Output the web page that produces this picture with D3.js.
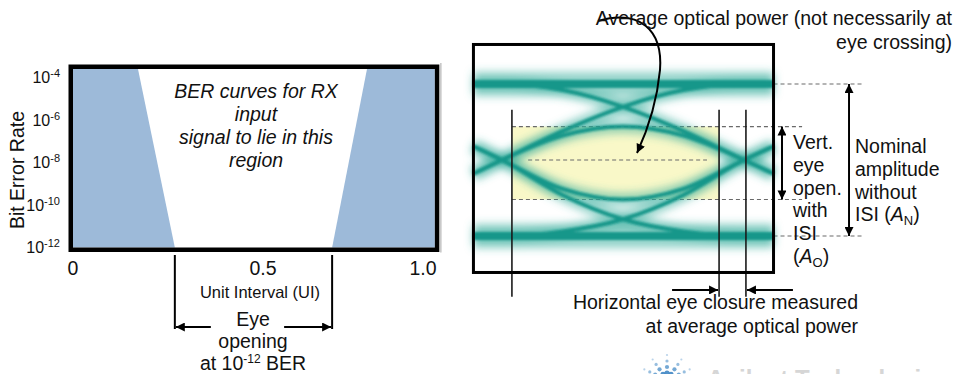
<!DOCTYPE html>
<html>
<head>
<meta charset="utf-8">
<script src="https://cdn.jsdelivr.net/npm/d3@7"></script>
<style>
  html, body { margin: 0; padding: 0; background: #fff; }
  svg { display: block; font-family: "Liberation Sans", Arial, Helvetica, sans-serif; }
</style>
</head>
<body>
<svg id="chart" width="957" height="374"></svg>
<script>
// ---------- BER mask (left panel) ----------
const uiTicks = [0, 0.5, 1.0];
const uiTickLabels = ["0", "0.5", "1.0"];
const berTickExp = [-4, -6, -8, -10, -12];
const berSpanExp = [-12, -3.6];            // bottom / top of the plotted BER span
const uiSpan = [0, 1.037];                  // left / right edge of the plot in UI
const leftMaskUI = [0.171, 0.268];          // mask edge at top BER, at 1e-12
const rightMaskUI = [0.825, 0.716];
const eyeOpeningUI = [0.268, 0.716];        // eye opening at 1e-12 BER
const regionLines = ["BER curves for RX", "input", "signal to lie in this", "region"];

// ---------- Eye diagram (right panel) ----------
const eyeWindowT = [-0.118, 1.122];         // horizontal extent of the scope window (UI)
const eyeWindowLevel = [-0.24, 1.26];       // vertical extent of the scope window
const railLevels = [1, 0];
const avgPowerLevel = 0.5;
const eyeOpenLevels = [0.72, 0.24];         // A_O limits
const closureT = [0.041, 0.897, 1.008];     // vertical markers
const avgPowerSpanT = [0.108, 0.847];

// traces as [time (UI), level] pairs
const traceTopRail    = [[-0.118, 1], [1.122, 1]];
const traceBottomRail = [[-0.118, 0], [1.122, 0]];
const traceUpperArc   = [[-0.118, 0.41], [0, 0.5], [0.25, 0.66], [0.5, 0.72], [0.75, 0.66], [1, 0.5], [1.122, 0.41]];
const traceLowerArc   = [[-0.118, 0.59], [0, 0.5], [0.25, 0.31], [0.5, 0.24], [0.75, 0.31], [1, 0.5], [1.122, 0.59]];
const traceRiseA      = [[-0.118, 0.41], [0, 0.5], [0.25, 0.69], [0.5, 0.85], [0.75, 0.96], [1, 1], [1.122, 1]];
const traceFallA      = [[-0.118, 0.59], [0, 0.5], [0.25, 0.27], [0.5, 0.11], [0.75, 0.03], [1, 0], [1.122, 0]];
const traceRiseB      = [[-0.118, 0], [0, 0], [0.25, 0.03], [0.5, 0.11], [0.75, 0.27], [1, 0.5], [1.122, 0.59]];
const traceFallB      = [[-0.118, 1], [0, 1], [0.25, 0.96], [0.5, 0.85], [0.75, 0.69], [1, 0.5], [1.122, 0.41]];
const railTraces = [traceTopRail, traceBottomRail];
const isiTraces = [traceUpperArc, traceLowerArc, traceRiseA, traceFallA, traceRiseB, traceFallB];

const svg = d3.select("#chart");
svg.append("rect").attr("width", 957).attr("height", 374).attr("fill", "#fff");

const defs = svg.append("defs");
defs.append("marker")
  .attr("id", "head").attr("viewBox", "0 0 10 10")
  .attr("refX", 10).attr("refY", 5)
  .attr("markerUnits", "userSpaceOnUse")
  .attr("markerWidth", 13).attr("markerHeight", 9)
  .attr("orient", "auto-start-reverse")
  .append("path").attr("d", "M0,0 L10,5 L0,10 Z").attr("fill", "#000");

function blurFilter(id, sd) {
  defs.append("filter").attr("id", id)
    .attr("filterUnits", "userSpaceOnUse")
    .attr("x", 440).attr("y", 30).attr("width", 360).attr("height", 260)
    .append("feGaussianBlur").attr("stdDeviation", sd);
}
blurFilter("haze", 4.5);
blurFilter("soft", 0.9);

// ===== left panel =====
const x = d3.scaleLinear().domain([0, 0.5, 1]).range([73, 263, 423]);
const y = d3.scaleLog().domain(berSpanExp.map(e => Math.pow(10, e))).range([247.5, 69]);
const yTop = Math.pow(10, berSpanExp[1]);
const yBot = Math.pow(10, berSpanExp[0]);

const area = d3.line().x(d => x(d[0])).y(d => y(d[1]));
const left = svg.append("g");

left.append("path")
  .attr("d", area([[uiSpan[0], yTop], [leftMaskUI[0], yTop], [leftMaskUI[1], yBot], [uiSpan[0], yBot]]) + "Z")
  .attr("fill", "#9dbad9");
left.append("path")
  .attr("d", area([[rightMaskUI[0], yTop], [uiSpan[1], yTop], [uiSpan[1], yBot], [rightMaskUI[1], yBot]]) + "Z")
  .attr("fill", "#9dbad9");

// frame
left.append("rect")
  .attr("x", x(uiSpan[0]) - 2.25).attr("y", y(yTop) - 2.25)
  .attr("width", x(uiSpan[1]) - x(uiSpan[0]) + 4.5)
  .attr("height", y(yBot) - y(yTop) + 4.5)
  .attr("fill", "none").attr("stroke", "#000").attr("stroke-width", 4.5);
left.append("line")
  .attr("x1", x(uiSpan[1]) + 6).attr("x2", x(uiSpan[1]) + 6)
  .attr("y1", y(yTop) - 6).attr("y2", y(yBot) + 5)
  .attr("stroke", "#c4c4c4").attr("stroke-width", 1.5);

// y ticks
berTickExp.forEach(e => {
  const t = left.append("text")
    .attr("x", 60).attr("y", y(Math.pow(10, e)) + 5.5)
    .attr("text-anchor", "end").attr("font-size", 16).attr("fill", "#111");
  t.append("tspan").text("10");
  t.append("tspan").attr("font-size", 11).attr("dy", -6).text(String(e));
});
left.append("text")
  .attr("transform", "translate(24,170) rotate(-90)")
  .attr("text-anchor", "middle").attr("font-size", 19.5).attr("fill", "#111")
  .text("Bit Error Rate");

// x ticks
uiTicks.forEach((v, i) => {
  left.append("text")
    .attr("x", x(v)).attr("y", 275)
    .attr("text-anchor", "middle").attr("font-size", 19.5).attr("fill", "#111")
    .text(uiTickLabels[i]);
});
left.append("text")
  .attr("x", 260).attr("y", 298)
  .attr("text-anchor", "middle").attr("font-size", 16.5).attr("fill", "#111")
  .text("Unit Interval (UI)");

// region text
regionLines.forEach((s, i) => {
  left.append("text")
    .attr("x", 256).attr("y", 98 + i * 23)
    .attr("text-anchor", "middle").attr("font-size", 19.5)
    .attr("font-style", "italic").attr("fill", "#111")
    .text(s);
});

// eye-opening markers
const arrowY = 327;
eyeOpeningUI.forEach(v => {
  left.append("line")
    .attr("x1", x(v)).attr("x2", x(v)).attr("y1", 255).attr("y2", arrowY + 2)
    .attr("stroke", "#000").attr("stroke-width", 2);
});
left.append("line")
  .attr("x1", x(eyeOpeningUI[0]) + 36).attr("x2", x(eyeOpeningUI[0]) + 1)
  .attr("y1", arrowY).attr("y2", arrowY)
  .attr("stroke", "#000").attr("stroke-width", 2).attr("marker-end", "url(#head)");
left.append("line")
  .attr("x1", x(eyeOpeningUI[1]) - 48).attr("x2", x(eyeOpeningUI[1]) - 1)
  .attr("y1", arrowY).attr("y2", arrowY)
  .attr("stroke", "#000").attr("stroke-width", 2).attr("marker-end", "url(#head)");

const eo = [["Eye"], ["opening"], ["at 10", "-12", " BER"]];
eo.forEach((parts, i) => {
  const t = left.append("text")
    .attr("x", 253).attr("y", 326 + i * 22)
    .attr("text-anchor", "middle").attr("font-size", 19.5).attr("fill", "#111");
  t.append("tspan").text(parts[0]);
  if (parts.length > 1) {
    t.append("tspan").attr("font-size", 12).attr("dy", -7).text(parts[1]);
    t.append("tspan").attr("dy", 7).text(parts[2]);
  }
});

// ===== right panel =====
const tx = d3.scaleLinear().domain([0, 1]).range([502, 744]);
const ly = d3.scaleLinear().domain([0, 1]).range([236, 84]);
const right = svg.append("g");

// eye interior
right.append("rect")
  .attr("x", tx(closureT[0])).attr("y", ly(eyeOpenLevels[0]))
  .attr("width", tx(closureT[1]) - tx(closureT[0]))
  .attr("height", ly(eyeOpenLevels[1]) - ly(eyeOpenLevels[0]))
  .attr("fill", "#f9f8c8");

// dashed reference levels
const dash = (t0, t1, lv) => right.append("line")
  .attr("x1", tx(t0)).attr("x2", tx(t1)).attr("y1", ly(lv)).attr("y2", ly(lv))
  .attr("stroke", "#6a6a6a").attr("stroke-width", 1.2).attr("stroke-dasharray", "4,3");
dash(avgPowerSpanT[0], avgPowerSpanT[1], avgPowerLevel);
eyeOpenLevels.forEach(lv => dash(closureT[0], 1.24, lv));
railLevels.forEach(lv => dash(eyeWindowT[1], 1.495, lv));

// traces
const trace = d3.line().x(d => tx(d[0])).y(d => ly(d[1])).curve(d3.curveMonotoneX);
const haze = right.append("g").attr("filter", "url(#haze)").attr("fill", "none")
  .attr("stroke", "#3cae9f").attr("stroke-opacity", 0.55);
railTraces.forEach(tr => haze.append("path").attr("d", trace(tr)).attr("stroke-width", 24));
isiTraces.forEach(tr => haze.append("path").attr("d", trace(tr)).attr("stroke-width", 13));
const core = right.append("g").attr("filter", "url(#soft)").attr("fill", "none")
  .attr("stroke", "#14978a");
railTraces.forEach(tr => core.append("path").attr("d", trace(tr)).attr("stroke-width", 8));
isiTraces.forEach(tr => core.append("path").attr("d", trace(tr)).attr("stroke-width", 4));

// closure markers
closureT.forEach(t => {
  right.append("line")
    .attr("x1", tx(t)).attr("x2", tx(t)).attr("y1", ly(0.83)).attr("y2", ly(-0.4))
    .attr("stroke", "#1a1a1a").attr("stroke-width", 1.6);
});

// scope window
right.append("rect")
  .attr("x", tx(eyeWindowT[0])).attr("y", ly(eyeWindowLevel[1]))
  .attr("width", tx(eyeWindowT[1]) - tx(eyeWindowT[0]))
  .attr("height", ly(eyeWindowLevel[0]) - ly(eyeWindowLevel[1]))
  .attr("fill", "none").attr("stroke", "#000").attr("stroke-width", 3);

// horizontal closure arrows
const hy = ly(-0.355);
right.append("line").attr("x1", tx(closureT[1]) - 47).attr("x2", tx(closureT[1]) - 1)
  .attr("y1", hy).attr("y2", hy).attr("stroke", "#000").attr("stroke-width", 2)
  .attr("marker-end", "url(#head)");
right.append("line").attr("x1", tx(closureT[2]) + 47).attr("x2", tx(closureT[2]) + 1)
  .attr("y1", hy).attr("y2", hy).attr("stroke", "#000").attr("stroke-width", 2)
  .attr("marker-end", "url(#head)");

// vertical double arrows
const vArrow = (t, l0, l1) => right.append("line")
  .attr("x1", tx(t)).attr("x2", tx(t)).attr("y1", ly(l0)).attr("y2", ly(l1))
  .attr("stroke", "#000").attr("stroke-width", 2)
  .attr("marker-start", "url(#head)").attr("marker-end", "url(#head)");
vArrow(1.157, eyeOpenLevels[0], eyeOpenLevels[1]);
vArrow(1.434, railLevels[0], railLevels[1]);

// curved pointer to average power level
right.append("path")
  .attr("d", "M598,21 C640,9 663,30 660,70 C657,102 649,127 637,153")
  .attr("fill", "none").attr("stroke", "#000").attr("stroke-width", 2)
  .attr("marker-end", "url(#head)");

// labels
const lbl = (xp, yp, anchor) => right.append("text")
  .attr("x", xp).attr("y", yp).attr("text-anchor", anchor)
  .attr("font-size", 19.5).attr("fill", "#111");
lbl(952, 25, "end").text("Average optical power (not necessarily at");
lbl(952, 49, "end").text("eye crossing)");
lbl(858, 309, "end").text("Horizontal eye closure measured");
lbl(858, 333, "end").text("at average optical power");

["Vert.", "eye", "open.", "with", "ISI"].forEach((s, i) => lbl(793, 149 + i * 22.8, "start").text(s));
const ao = lbl(793, 149 + 5 * 22.8, "start");
ao.append("tspan").text("(");
ao.append("tspan").attr("font-style", "italic").text("A");
ao.append("tspan").attr("font-size", 13).attr("dy", 4).text("O");
ao.append("tspan").attr("dy", -4).text(")");

["Nominal", "amplitude", "without"].forEach((s, i) => lbl(855, 153 + i * 22.8, "start").text(s));
const an = lbl(855, 153 + 3 * 22.8, "start");
an.append("tspan").text("ISI (");
an.append("tspan").attr("font-style", "italic").text("A");
an.append("tspan").attr("font-size", 13).attr("dy", 4).text("N");
an.append("tspan").attr("dy", -4).text(")");

// logo mark and company name along the bottom edge
const logo = svg.append("g").attr("transform", "translate(667,380)");
[-90, -55, -125, -25, -155].forEach(a => {
  [7, 13, 19, 25].forEach((r, k) => {
    const rad = a * Math.PI / 180;
    logo.append("circle")
      .attr("cx", r * Math.cos(rad)).attr("cy", r * Math.sin(rad))
      .attr("r", 2.6 - k * 0.5)
      .attr("fill", "#3f86c4").attr("fill-opacity", 0.9 - k * 0.18);
  });
});
svg.append("text")
  .attr("x", 707).attr("y", 387)
  .attr("font-size", 24).attr("font-weight", "bold").attr("fill", "#d6d6d6")
  .text("Agilent Technologies");
</script>
</body>
</html>
